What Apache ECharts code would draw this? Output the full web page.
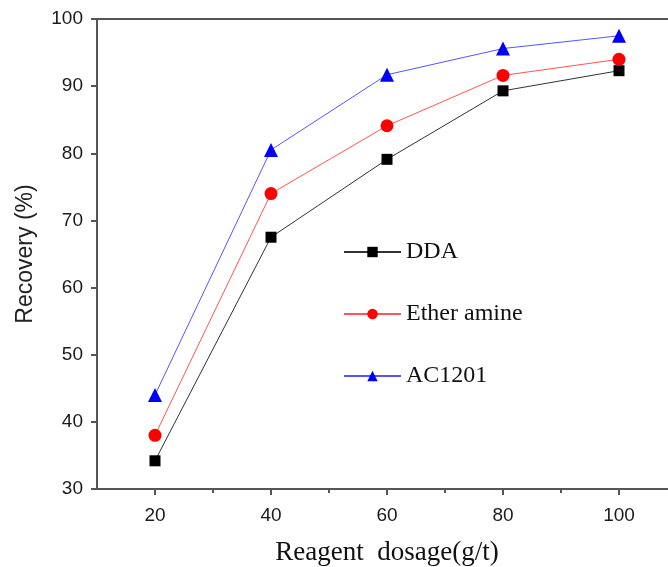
<!DOCTYPE html>
<html><head><meta charset="utf-8">
<script src="https://cdn.jsdelivr.net/npm/echarts@6/dist/echarts.min.js"></script>
<style>html,body{margin:0;padding:0;background:#fff}#c{width:668px;height:567px}</style>
</head><body><div id="c"></div>
<script>
const dosage = [20, 40, 60, 80, 100];
const dda = [34.2, 67.5, 79.1, 89.3, 92.3];
const etherAmine = [38.0, 74.0, 84.1, 91.6, 94.0];
const ac1201 = [44.0, 80.5, 91.7, 95.6, 97.5];
const seriesNames = ['DDA', 'Ether amine', 'AC1201'];
const xMajorTicks = [20, 40, 60, 80, 100];
const xMinorTicks = [30, 50, 70, 90];

const pair = (xs, ys) => xs.map((x, i) => [x, ys[i]]);
const chart = echarts.init(document.getElementById('c'));
const axisCol = '#555';
chart.setOption({
  animation: false,
  backgroundColor: '#fff',
  grid: { left: 97, top: 19, width: 580, height: 470, show: true, borderColor: axisCol, borderWidth: 2,
    containLabel: false, outerBoundsMode: 'none' },
  legend: {
    orient: 'vertical', left: 338, top: 235, itemGap: 38, itemWidth: 57, itemHeight: 13,
    textStyle: { fontFamily: 'Liberation Serif', fontSize: 24, lineHeight: 24, color: '#111' },
    data: seriesNames
  },
  xAxis: [{
    type: 'value', min: 10, max: 110, position: 'bottom',
    axisLine: { lineStyle: { color: axisCol, width: 2 } },
    axisTick: { show: true, length: 6, customValues: xMajorTicks, lineStyle: { color: axisCol, width: 2 } },
    splitLine: { show: false },
    axisLabel: { fontFamily: 'Liberation Sans', fontSize: 19, color: '#1a1a1a', margin: 17, customValues: xMajorTicks },
    name: 'Reagent  dosage(g/t)', nameLocation: 'middle', nameGap: 50,
    nameTextStyle: { fontFamily: 'Liberation Serif', fontSize: 27, color: '#111' }
  }, {
    type: 'value', min: 10, max: 110, position: 'bottom', offset: 0,
    axisLine: { show: false },
    axisTick: { show: true, length: 4, customValues: xMinorTicks, lineStyle: { color: axisCol, width: 2 } },
    splitLine: { show: false },
    axisLabel: { show: false }
  }],
  yAxis: {
    type: 'value', min: 30, max: 100, interval: 10,
    axisLine: { show: true, lineStyle: { color: axisCol, width: 2 } },
    axisTick: { show: true, length: 6, lineStyle: { color: axisCol, width: 2 } },
    splitLine: { show: false },
    axisLabel: { fontFamily: 'Liberation Sans', fontSize: 19, color: '#1a1a1a', margin: 14 },
    name: 'Recovery (%)', nameLocation: 'middle', nameGap: 60,
    nameTextStyle: { fontFamily: 'Liberation Sans', fontSize: 23, color: '#222' }
  },
  series: [
    { name: seriesNames[0], type: 'line', data: pair(dosage, dda), symbol: 'rect', symbolSize: 11,
      lineStyle: { color: '#333', width: 1 }, itemStyle: { color: '#000' } },
    { name: seriesNames[1], type: 'line', data: pair(dosage, etherAmine), symbol: 'circle', symbolSize: 13,
      lineStyle: { color: '#f55', width: 1 }, itemStyle: { color: '#f00' } },
    { name: seriesNames[2], type: 'line', data: pair(dosage, ac1201), symbol: 'triangle', symbolSize: 14,
      lineStyle: { color: '#55f', width: 1 }, itemStyle: { color: '#00f' } }
  ]
});
</script></body></html>
